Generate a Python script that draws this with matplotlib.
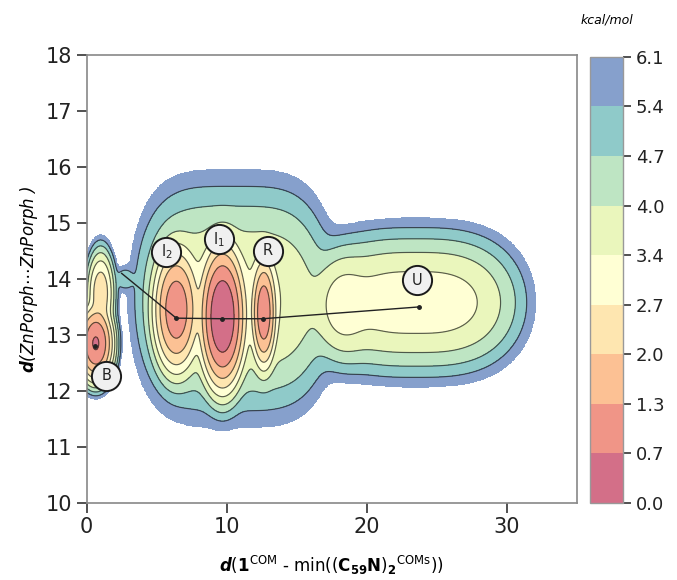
import numpy as np
import matplotlib.pyplot as plt

# free-energy basins: centre, minimum (kcal/mol), reach in x / y, x exponent
basin_x = [0.65, 1.0, 2.7, 6.4, 9.7, 12.65, 10.5, 18.3, 23.5]
basin_y = [12.85, 13.75, 14.0, 13.45, 13.33, 13.4, 13.65, 13.52, 13.58]
basin_f0 = [0.6, 2.2, 4.9, 0.85, 0.0, 0.8, 3.3, 3.1, 2.95]
basin_rx = [2.0, 1.7, 1.6, 2.6, 2.45, 1.45, 9.2, 4.2, 10.7]
basin_ry = [1.05, 1.3, 0.5, 1.75, 1.9, 1.55, 3.4, 1.8, 2.1]
basin_px = [2, 2, 2, 2, 2, 2, 4, 2, 3]

# labelled states and the path joining them
state_names = ['B', 'I$_2$', 'I$_1$', 'R', 'U']
state_x = [0.6, 6.4, 9.65, 12.6, 23.7]
state_y = [12.8, 13.3, 13.29, 13.29, 13.5]
label_x = [1.4, 5.7, 9.45, 12.95, 23.6]
label_y = [12.27, 14.48, 14.71, 14.5, 13.98]
path_x = [2.5, 6.4, 9.65, 12.6, 23.7]
path_y = [14.1, 13.3, 13.29, 13.29, 13.5]

cbar_ticks = [0.0, 0.7, 1.3, 2.0, 2.7, 3.4, 4.0, 4.7, 5.4, 6.1]
fmax = 6.06
kT = 0.6

x = np.linspace(0, 35, 701)
y = np.linspace(10, 18, 801)
X, Y = np.meshgrid(x, y)

wells = []
for bx, by, f0, rx, ry, px in zip(basin_x, basin_y, basin_f0, basin_rx, basin_ry, basin_px):
    wells.append(f0 + 6 * (np.abs((X - bx) / rx) ** px + ((Y - by) / ry) ** 2))
wells = np.array(wells)
fmin = wells.min(axis=0)
F = fmin - kT * np.log(np.exp(-(wells - fmin) / kT).sum(axis=0))
F = F - F.min()
F = np.where(F > fmax, np.nan, F)

levels = np.linspace(0, fmax, 10)

fig = plt.figure(figsize=(6.77, 5.8), dpi=100)
ax = fig.add_axes([0.128, 0.133, 0.724, 0.772])
cax = fig.add_axes([0.872, 0.133, 0.048, 0.769])

cf = ax.contourf(X, Y, F, levels=levels, cmap='Spectral', alpha=0.65)
ax.contour(X, Y, F, levels=levels[1:], colors='#2a2a2a', linewidths=0.85, alpha=0.75)

# minimum energy path and state markers
ax.plot(path_x, path_y, color='#222222', lw=1.0, zorder=3)
ax.plot(state_x, state_y, 'o', color='#222222', ms=2.5, zorder=4)
for name, lx, ly in zip(state_names, label_x, label_y):
    ax.plot(lx, ly, 'o', ms=21, mfc='#f0f0f0', mec='#1a1a1a', mew=1.4, zorder=5)
    ax.text(lx, ly, name, ha='center', va='center', fontsize=10.5, color='#222222', zorder=6)

ax.set_xlim(0, 35)
ax.set_ylim(10, 18)
ax.set_xticks([0, 10, 20, 30])
ax.set_yticks(range(10, 19))
ax.tick_params(axis='both', labelsize=15, length=7, width=1.2, color='#333333', labelcolor='#222222')
for s in ax.spines.values():
    s.set_color('#888888')
    s.set_linewidth(1.2)

ax.set_xlabel(r'$\mathbfit{d}$($\mathbf{1}^{\mathrm{COM}}$ - min(($\mathbf{C}_{\mathbf{59}}\mathbf{N}$)$_{\mathbf{2}}$$^{\mathrm{COMs}}$))',
              fontsize=12, labelpad=12)
ax.set_ylabel(r'$\mathbfit{d}$(ZnPorph$\cdots$ZnPorph )', fontsize=12, fontstyle='italic', labelpad=4)

cb = fig.colorbar(cf, cax=cax, ticks=levels)
cb.ax.set_yticklabels(['%.1f' % t for t in cbar_ticks])
cb.ax.tick_params(labelsize=13, length=6, width=1.2, color='#333333', labelcolor='#222222')
cb.outline.set_edgecolor('#999999')
cb.outline.set_linewidth(1.0)
cb.ax.set_title('kcal/mol', fontsize=9, fontstyle='italic', pad=24)

fig.savefig('out.png', dpi=100)
